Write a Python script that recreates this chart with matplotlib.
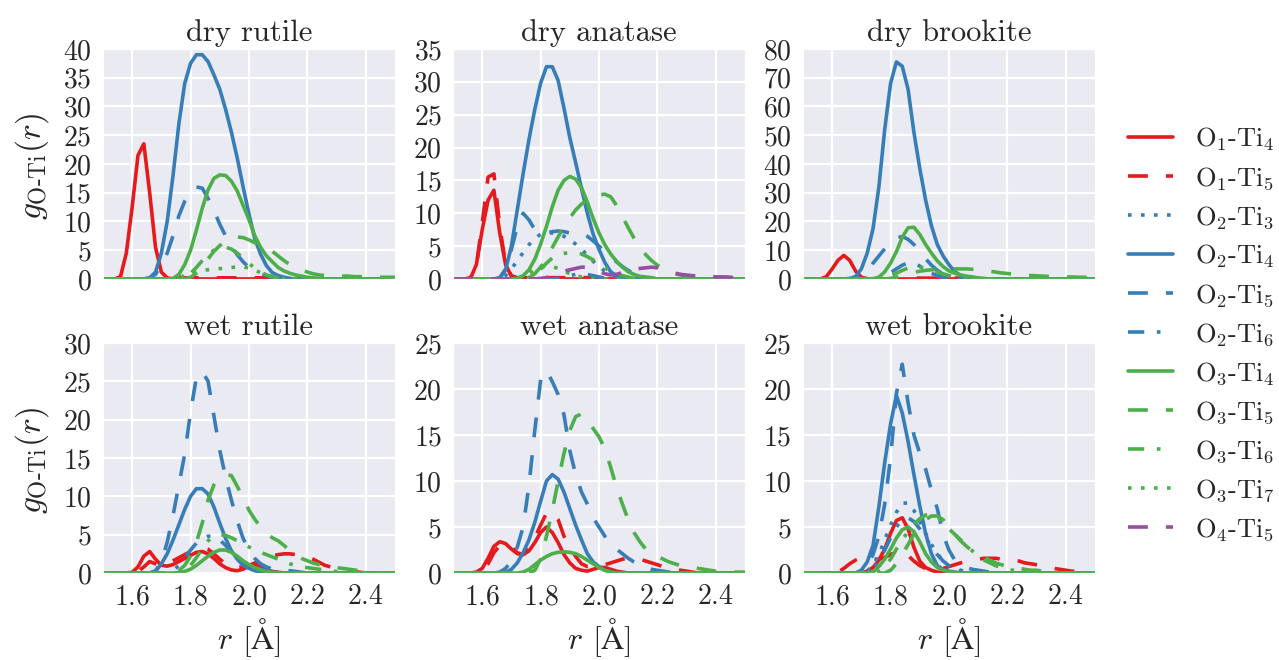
import matplotlib
matplotlib.use("Agg")
import matplotlib.pyplot as plt
from matplotlib.lines import Line2D
import seaborn as sns

R = [1.50, 1.52, 1.54, 1.56, 1.58, 1.60, 1.62, 1.64, 1.66, 1.68, 1.70, 1.72, 1.74, 1.76, 1.78, 1.80, 1.82,
     1.84, 1.86, 1.88, 1.90, 1.92, 1.94, 1.96, 1.98, 2.00, 2.02, 2.04, 2.06, 2.08, 2.10, 2.12, 2.14, 2.16,
     2.18, 2.20, 2.22, 2.24, 2.26, 2.28, 2.30, 2.32, 2.34, 2.36, 2.38, 2.40, 2.42, 2.44, 2.46, 2.48, 2.50]

dry_rutile = {
    "O1-Ti4": [0, 0, 0, 0.4, 4.5, 12.5, 21.5, 23.5, 15, 5.5, 1.2, 0.2, 0, 0, 0, 0, 0,
               0, 0, 0, 0, 0, 0, 0, 0, 0, 0, 0, 0, 0, 0, 0, 0, 0,
               0, 0, 0, 0, 0, 0, 0, 0, 0, 0, 0, 0, 0, 0, 0, 0, 0],
    "O1-Ti5": [0, 0, 0, 0, 0, 0, 0, 0, 0, 0, 0, 0.1, 0.2, 0.2, 0.2, 0.2, 0.2,
               0.2, 0.2, 0.2, 0.2, 0.2, 0.2, 0.2, 0.2, 0.2, 0.2, 0.2, 0.2, 0.2, 0.1, 0, 0, 0,
               0, 0, 0, 0, 0, 0, 0, 0, 0, 0, 0, 0, 0, 0, 0, 0, 0],
    "O2-Ti4": [0, 0, 0, 0, 0, 0, 0, 0, 0.2, 1.2, 4.5, 10, 18, 27, 34, 37.5, 39,
               39, 37.8, 35.5, 33, 29.5, 25.5, 21, 16, 11.3, 7, 4.3, 2.3, 1.1, 0.6, 0.3, 0.1, 0,
               0, 0, 0, 0, 0, 0, 0, 0, 0, 0, 0, 0, 0, 0, 0, 0, 0],
    "O2-Ti5": [0, 0, 0, 0, 0, 0, 0, 0, 0.2, 0.8, 2.5, 4.5, 7.5, 11, 13.5, 15.3, 16,
               15.8, 14, 12, 9.5, 7.5, 5.8, 4.2, 3, 2, 1.3, 0.9, 0.6, 0.3, 0.1, 0, 0, 0,
               0, 0, 0, 0, 0, 0, 0, 0, 0, 0, 0, 0, 0, 0, 0, 0, 0],
    "O3-Ti4": [0, 0, 0, 0, 0, 0, 0, 0, 0, 0, 0, 0, 0.1, 0.8, 2.5, 5, 8.5,
               12.3, 15.5, 17.5, 18.1, 18, 17, 15.3, 12.8, 10.3, 7.5, 5.5, 4, 3, 2, 1.4, 1, 0.7,
               0.5, 0.3, 0.2, 0.1, 0, 0, 0, 0, 0, 0, 0, 0, 0, 0, 0, 0, 0],
    "O3-Ti5": [0, 0, 0, 0, 0, 0, 0, 0, 0, 0, 0, 0, 0, 0, 0, 0.3, 1,
               2.2, 3.5, 4.8, 5.8, 6.6, 7.1, 7.3, 7.2, 6.8, 6.3, 5.8, 5.3, 4.8, 4, 3.2, 2.5, 2,
               1.6, 1.2, 0.9, 0.7, 0.6, 0.6, 0.5, 0.5, 0.5, 0.4, 0.4, 0.4, 0.4, 0.3, 0.3, 0.3, 0.3],
    "O3-Ti6": [0, 0, 0, 0, 0, 0, 0, 0, 0, 0, 0, 0, 0, 0, 0.3, 1, 2,
               3.2, 4.3, 5, 5.4, 5.5, 5.2, 4.5, 3.6, 2.7, 1.9, 1.2, 0.7, 0.4, 0.2, 0, 0, 0,
               0, 0, 0, 0, 0, 0, 0, 0, 0, 0, 0, 0, 0, 0, 0, 0, 0],
    "O3-Ti7": [0, 0, 0, 0, 0, 0, 0, 0, 0, 0, 0, 0, 0, 0.2, 0.6, 1, 1.3,
               1.5, 1.6, 1.7, 1.8, 1.9, 2, 2.1, 2.1, 1.9, 1.5, 1.1, 0.7, 0.4, 0.2, 0, 0, 0,
               0, 0, 0, 0, 0, 0, 0, 0, 0, 0, 0, 0, 0, 0, 0, 0, 0],
}

dry_anatase = {
    "O1-Ti4": [0, 0, 0, 0.1, 2.2, 7.5, 12, 13.5, 7, 2.2, 0.4, 0.1, 0, 0, 0, 0, 0,
               0, 0, 0, 0, 0, 0, 0, 0, 0, 0, 0, 0, 0, 0, 0, 0, 0,
               0, 0, 0, 0, 0, 0, 0, 0, 0, 0, 0, 0, 0, 0, 0, 0, 0],
    "O1-Ti5": [0, 0, 0, 0.2, 2, 8.5, 15.5, 16, 8, 2.3, 0.5, 0.2, 0.2, 0.2, 0.2, 0.2, 0.2,
               0.2, 0.2, 0.2, 0.2, 0.2, 0.2, 0.2, 0.2, 0.2, 0.2, 0.2, 0.2, 0.2, 0.1, 0, 0, 0,
               0, 0, 0, 0, 0, 0, 0, 0, 0, 0, 0, 0, 0, 0, 0, 0, 0],
    "O2-Ti3": [0, 0, 0, 0, 0, 0, 0, 0, 0.1, 0.5, 1.5, 2.8, 4, 5.2, 6.2, 6.8, 7,
               7, 6.8, 6.5, 6, 5.3, 4.5, 3.6, 2.7, 1.9, 1.2, 0.7, 0.3, 0.1, 0, 0, 0, 0,
               0, 0, 0, 0, 0, 0, 0, 0, 0, 0, 0, 0, 0, 0, 0, 0, 0],
    "O2-Ti4": [0, 0, 0, 0, 0, 0, 0, 0, 0.1, 1.4, 5, 10.5, 16, 21.2, 25.8, 29.8, 32.3,
               32.3, 30.2, 26, 21.5, 17.7, 13.8, 10, 6.8, 4.5, 2.5, 1.1, 0.5, 0.2, 0.1, 0, 0, 0,
               0, 0, 0, 0, 0, 0, 0, 0, 0, 0, 0, 0, 0, 0, 0, 0, 0],
    "O2-Ti5": [0, 0, 0, 0, 0, 0, 0, 0, 0.2, 1.5, 4.5, 8, 10, 9, 7.5, 7, 7,
               7.2, 7.3, 7.2, 7, 7, 7, 6.5, 5.8, 5, 4.2, 3.4, 2.6, 1.9, 1.3, 0.8, 0.5, 0.3,
               0.1, 0, 0, 0, 0, 0, 0, 0, 0, 0, 0, 0, 0, 0, 0, 0, 0],
    "O2-Ti6": [0, 0, 0, 0, 0, 0, 0, 0, 0, 0, 0, 0, 0, 0, 0, 0, 0,
               0, 0.1, 0.3, 0.5, 0.7, 0.8, 0.7, 0.5, 0.3, 0.1, 0, 0, 0, 0, 0, 0, 0,
               0, 0, 0, 0, 0, 0, 0, 0, 0, 0, 0, 0, 0, 0, 0, 0, 0],
    "O3-Ti4": [0, 0, 0, 0, 0, 0, 0, 0, 0, 0, 0, 0.1, 0.5, 1.4, 3, 5.3, 8,
               11, 13.5, 15, 15.6, 15.2, 13.9, 11.7, 9.2, 7, 5.2, 3.8, 2.7, 1.8, 1.1, 0.7, 0.4, 0.3,
               0.2, 0, 0, 0, 0, 0, 0, 0, 0, 0, 0, 0, 0, 0, 0, 0, 0],
    "O3-Ti5": [0, 0, 0, 0, 0, 0, 0, 0, 0, 0, 0, 0, 0, 0.2, 0.8, 1.8, 3.2,
               4.8, 6.4, 8, 9.3, 10.5, 11.4, 12, 12.5, 12.8, 12.9, 12.5, 11.2, 9.5, 7.8, 6.2, 4.8, 3.7,
               2.8, 2.1, 1.5, 1.1, 0.8, 0.6, 0.5, 0.4, 0.4, 0.3, 0.3, 0.3, 0.3, 0.2, 0.2, 0.2, 0.2],
    "O3-Ti6": [0, 0, 0, 0, 0, 0, 0, 0, 0, 0, 0, 0, 0, 0.2, 0.7, 1.5, 2.4,
               3.2, 3.7, 3.9, 4, 4, 3.8, 3.4, 2.9, 2.3, 1.7, 1.2, 0.8, 0.5, 0.3, 0.1, 0, 0,
               0, 0, 0, 0, 0, 0, 0, 0, 0, 0, 0, 0, 0, 0, 0, 0, 0],
    "O3-Ti7": [0, 0, 0, 0, 0, 0, 0, 0, 0, 0, 0, 0.1, 0.4, 0.9, 1.4, 1.8, 2,
               1.9, 1.6, 1.2, 0.8, 0.5, 0.3, 0.1, 0, 0, 0, 0, 0, 0, 0, 0, 0, 0,
               0, 0, 0, 0, 0, 0, 0, 0, 0, 0, 0, 0, 0, 0, 0, 0, 0],
    "O4-Ti5": [0, 0, 0, 0, 0, 0, 0, 0, 0, 0, 0, 0, 0, 0, 0, 0.1, 0.2,
               0.4, 0.8, 1.2, 1.4, 1.6, 1.8, 1.8, 1.6, 1.2, 0.8, 0.6, 0.7, 1, 1.3, 1.5, 1.6, 1.7,
               1.8, 1.7, 1.4, 1.1, 0.9, 0.7, 0.6, 0.5, 0.5, 0.4, 0.4, 0.3, 0.3, 0.3, 0.2, 0.2, 0.1],
}

dry_brookite = {
    "O1-Ti4": [0, 0, 0, 0, 0.8, 3.5, 6.5, 8.2, 6.5, 2.8, 0.6, 0.1, 0, 0, 0, 0, 0,
               0, 0, 0, 0, 0, 0, 0, 0, 0, 0, 0, 0, 0, 0, 0, 0, 0,
               0, 0, 0, 0, 0, 0, 0, 0, 0, 0, 0, 0, 0, 0, 0, 0, 0],
    "O1-Ti5": [0, 0, 0, 0, 0, 0, 0, 0, 0, 0, 0, 0, 0, 0, 0, 0, 0,
               0.2, 0.3, 0.3, 0.3, 0.3, 0.3, 0.3, 0.3, 0.3, 0.3, 0.3, 0.3, 0.1, 0, 0, 0, 0,
               0, 0, 0, 0, 0, 0, 0, 0, 0, 0, 0, 0, 0, 0, 0, 0, 0],
    "O2-Ti4": [0, 0, 0, 0, 0, 0, 0, 0, 0.2, 0.8, 3.5, 9, 17.5, 32, 52, 68, 75.5,
               74, 66, 51, 38.5, 27.5, 18.5, 12, 8, 5, 2.5, 1.3, 0.6, 0.3, 0.1, 0, 0, 0,
               0, 0, 0, 0, 0, 0, 0, 0, 0, 0, 0, 0, 0, 0, 0, 0, 0],
    "O2-Ti5": [0, 0, 0, 0, 0, 0, 0, 0, 0, 0, 0.5, 2.5, 5.5, 8, 10.5, 12.5, 14.2,
               14.8, 13.8, 12, 9.5, 7, 4.8, 3, 1.8, 1, 0.5, 0.2, 0, 0, 0, 0, 0, 0,
               0, 0, 0, 0, 0, 0, 0, 0, 0, 0, 0, 0, 0, 0, 0, 0, 0],
    "O2-Ti6": [0, 0, 0, 0, 0, 0, 0, 0, 0, 0, 0, 0, 0, 0.3, 1, 2.2, 3.5,
               4.8, 5.6, 5.5, 4.5, 3.2, 2, 1.2, 0.6, 0.3, 0.1, 0, 0, 0, 0, 0, 0, 0,
               0, 0, 0, 0, 0, 0, 0, 0, 0, 0, 0, 0, 0, 0, 0, 0, 0],
    "O3-Ti4": [0, 0, 0, 0, 0, 0, 0, 0, 0, 0, 0, 0, 0.1, 0.6, 2.5, 5.5, 9.5,
               14.5, 17.8, 18, 15.5, 12, 9, 6.3, 4.3, 2.8, 2, 1.4, 1, 0.7, 0.4, 0.2, 0, 0,
               0, 0, 0, 0, 0, 0, 0, 0, 0, 0, 0, 0, 0, 0, 0, 0, 0],
    "O3-Ti5": [0, 0, 0, 0, 0, 0, 0, 0, 0, 0, 0, 0, 0, 0, 0, 0.2, 0.6,
               1.2, 1.8, 2.3, 2.7, 3, 3.2, 3.3, 3.4, 3.4, 3.5, 3.5, 3.5, 3.4, 3.2, 3, 2.7, 2.4,
               2.1, 1.9, 1.7, 1.5, 1.3, 1.2, 1.1, 1, 0.9, 0.8, 0.8, 0.7, 0.7, 0.6, 0.6, 0.5, 0.5],
    "O3-Ti6": [0, 0, 0, 0, 0, 0, 0, 0, 0, 0, 0, 0, 0, 0, 0.3, 1, 2,
               3, 3.8, 4.2, 4.2, 3.8, 3.2, 2.5, 1.8, 1.2, 0.8, 0.5, 0.3, 0.1, 0, 0, 0, 0,
               0, 0, 0, 0, 0, 0, 0, 0, 0, 0, 0, 0, 0, 0, 0, 0, 0],
}

wet_rutile = {
    "O1-Ti4": [0, 0, 0, 0, 0, 0.1, 0.8, 2.2, 2.8, 1.8, 1, 0.9, 1.1, 1.5, 1.9, 2.3, 2.7,
               2.8, 2.5, 1.9, 1.2, 0.7, 0.4, 0.3, 0.5, 0.9, 1.1, 0.8, 0.4, 0.2, 0.1, 0, 0, 0,
               0, 0, 0, 0, 0, 0, 0, 0, 0, 0, 0, 0, 0, 0, 0, 0, 0],
    "O1-Ti5": [0, 0, 0, 0, 0, 0, 0.2, 0.8, 1.5, 1.2, 0.9, 1.2, 1.6, 2, 2.4, 2.8, 3.2,
               3.3, 3.1, 2.5, 1.8, 1.2, 0.8, 0.7, 0.8, 1, 1.3, 1.6, 1.9, 2.2, 2.4, 2.5, 2.5, 2.4,
               2.3, 2.1, 1.8, 1.4, 1, 0.8, 0.6, 0.4, 0.3, 0.2, 0.1, 0, 0, 0, 0, 0, 0],
    "O2-Ti4": [0, 0, 0, 0, 0, 0, 0, 0, 0, 0.2, 1.2, 2.5, 4.3, 6.3, 8.3, 10, 11,
               11, 10.3, 8.6, 6.5, 4.5, 2.9, 1.8, 1, 0.6, 0.3, 0.1, 0, 0, 0, 0, 0, 0,
               0, 0, 0, 0, 0, 0, 0, 0, 0, 0, 0, 0, 0, 0, 0, 0, 0],
    "O2-Ti5": [0, 0, 0, 0, 0, 0, 0, 0, 0, 0.3, 1.5, 4, 7.5, 11.5, 15.5, 21, 25.5,
               26.3, 25, 20.5, 16, 12.5, 9.5, 6.8, 4.5, 3, 1.9, 1.2, 0.8, 0.5, 0.4, 0.3, 0.3, 0.2,
               0.1, 0, 0, 0, 0, 0, 0, 0, 0, 0, 0, 0, 0, 0, 0, 0, 0],
    "O2-Ti6": [0, 0, 0, 0, 0, 0, 0, 0, 0, 0, 0, 0, 0.3, 1, 2, 3, 3.9,
               4.5, 4.8, 4.8, 4.3, 3.6, 2.8, 2, 1.4, 1, 0.7, 0.5, 0.3, 0.2, 0.1, 0, 0, 0,
               0, 0, 0, 0, 0, 0, 0, 0, 0, 0, 0, 0, 0, 0, 0, 0, 0],
    "O3-Ti4": [0, 0, 0, 0, 0, 0, 0, 0, 0, 0, 0, 0, 0, 0.05, 0.2, 0.5, 1,
               1.6, 2.2, 2.7, 3, 3, 2.7, 2.2, 1.6, 1.1, 0.7, 0.4, 0.2, 0.1, 0, 0, 0, 0,
               0, 0, 0, 0, 0, 0, 0, 0, 0, 0, 0, 0, 0, 0, 0, 0, 0],
    "O3-Ti5": [0, 0, 0, 0, 0, 0, 0, 0, 0, 0, 0, 0, 0, 0.3, 1, 2.2, 4,
               6.5, 9.5, 11.5, 12.5, 12.9, 12.7, 11.3, 9.8, 8.2, 7, 6, 5.2, 4.6, 4.2, 3.6, 2.9, 2.3,
               1.9, 1.6, 1.3, 1.1, 0.9, 0.8, 0.7, 0.6, 0.5, 0.4, 0.3, 0.2, 0.1, 0, 0, 0, 0],
    "O3-Ti6": [0, 0, 0, 0, 0, 0, 0, 0, 0, 0, 0, 0, 0, 0, 0.3, 1, 2,
               3.2, 4.2, 4.8, 5, 4.9, 4.6, 4.2, 3.8, 3.4, 3, 2.7, 2.4, 2.1, 1.8, 1.5, 1.2, 1,
               0.8, 0.7, 0.6, 0.5, 0.4, 0.3, 0.2, 0.1, 0, 0, 0, 0, 0, 0, 0, 0, 0],
}

wet_anatase = {
    "O1-Ti4": [0, 0, 0, 0, 0.1, 0.5, 1.6, 2.9, 3.4, 3.2, 2.6, 2.1, 2, 2.4, 3.3, 4.4, 5,
               4.4, 3.3, 2, 1.1, 0.5, 0.3, 0.2, 0.4, 0.6, 0.6, 0.4, 0.2, 0.1, 0, 0, 0, 0,
               0, 0, 0, 0, 0, 0, 0, 0, 0, 0, 0, 0, 0, 0, 0, 0, 0],
    "O1-Ti5": [0, 0, 0, 0, 0, 0.2, 1, 2.2, 3, 3.2, 2.8, 2.2, 2, 2.6, 3.8, 5.2, 6.5,
               6.7, 5.8, 4, 2.8, 1.8, 1, 0.7, 0.7, 0.8, 0.9, 1.1, 1.3, 1.5, 1.6, 1.6, 1.5, 1.3,
               1.1, 0.9, 0.7, 0.6, 0.4, 0.3, 0.2, 0.1, 0, 0, 0, 0, 0, 0, 0, 0, 0],
    "O2-Ti4": [0, 0, 0, 0, 0, 0, 0, 0, 0, 0.05, 0.4, 1.1, 2.2, 3.6, 5.5, 7.8, 10,
               10.7, 10.2, 8.8, 7, 5.2, 3.6, 2.1, 1.2, 0.7, 0.3, 0.1, 0, 0, 0, 0, 0, 0,
               0, 0, 0, 0, 0, 0, 0, 0, 0, 0, 0, 0, 0, 0, 0, 0, 0],
    "O2-Ti5": [0, 0, 0, 0, 0, 0, 0, 0, 0.1, 0.5, 1.3, 2.8, 5, 9.5, 15.5, 21, 22,
               20.8, 19.4, 17.2, 13.3, 10.7, 8.8, 7.5, 6, 5, 4, 3.1, 2.6, 2.1, 1.6, 1.2, 0.9, 0.6,
               0.4, 0.3, 0.2, 0.1, 0, 0, 0, 0, 0, 0, 0, 0, 0, 0, 0, 0, 0],
    "O3-Ti4": [0, 0, 0, 0, 0, 0, 0, 0, 0, 0, 0, 0, 0.1, 0.4, 0.9, 1.4, 1.8,
               2.1, 2.25, 2.3, 2.25, 2.1, 1.8, 1.4, 1, 0.6, 0.3, 0.1, 0, 0, 0, 0, 0, 0,
               0, 0, 0, 0, 0, 0, 0, 0, 0, 0, 0, 0, 0, 0, 0, 0, 0],
    "O3-Ti5": [0, 0, 0, 0, 0, 0, 0, 0, 0, 0, 0, 0, 0, 0, 0.3, 1.5, 4,
               6.8, 10, 13, 15.5, 17, 17.3, 16.6, 15.7, 14.8, 13.5, 11.5, 9.3, 7.5, 5.8, 4.4, 3.4, 2.6,
               2.1, 1.8, 1.5, 1.2, 1, 0.8, 0.7, 0.6, 0.5, 0.4, 0.3, 0.2, 0.2, 0.1, 0.1, 0.1, 0.1],
}

wet_brookite = {
    "O1-Ti4": [0, 0, 0, 0, 0, 0, 0, 0, 0, 0, 0, 0.2, 0.6, 1.4, 2.6, 4.3, 5.7,
               6, 4.8, 2.8, 1.3, 0.6, 0.3, 0.1, 0, 0, 0, 0, 0, 0, 0, 0, 0, 0,
               0, 0, 0, 0, 0, 0, 0, 0, 0, 0, 0, 0, 0, 0, 0, 0, 0],
    "O1-Ti5": [0, 0, 0, 0, 0, 0, 0.1, 0.5, 1, 1.4, 1.6, 1.6, 1.5, 1.5, 1.7, 2, 2.3,
               2.3, 1.9, 1.3, 0.8, 0.5, 0.4, 0.4, 0.5, 0.7, 0.9, 1.1, 1.3, 1.4, 1.5, 1.6, 1.6, 1.6,
               1.5, 1.5, 1.4, 1.3, 1.1, 1, 0.9, 0.8, 0.6, 0.5, 0.4, 0.3, 0.2, 0.2, 0.1, 0, 0],
    "O2-Ti3": [0, 0, 0, 0, 0, 0, 0, 0, 0, 0, 0, 0.2, 0.8, 2, 3.6, 5.2, 6.6,
               7.6, 7.6, 6.8, 5.6, 4.3, 3.1, 2.1, 1.3, 0.8, 0.4, 0.2, 0.1, 0, 0, 0, 0, 0,
               0, 0, 0, 0, 0, 0, 0, 0, 0, 0, 0, 0, 0, 0, 0, 0, 0],
    "O2-Ti4": [0, 0, 0, 0, 0, 0, 0, 0, 0, 0, 0.3, 1.2, 3, 7.2, 12, 16.2, 19.3,
               17.4, 14.3, 10.7, 7.3, 4.3, 2.1, 0.8, 0.4, 0.2, 0.1, 0, 0, 0, 0, 0, 0, 0,
               0, 0, 0, 0, 0, 0, 0, 0, 0, 0, 0, 0, 0, 0, 0, 0, 0],
    "O2-Ti5": [0, 0, 0, 0, 0, 0, 0, 0, 0, 0, 0.2, 0.8, 2, 4, 7.5, 12.5, 19.5,
               22.7, 18.5, 15, 13, 11.3, 9, 7, 4.2, 2.5, 1.4, 0.9, 0.6, 0.4, 0.3, 0.2, 0.1, 0,
               0, 0, 0, 0, 0, 0, 0, 0, 0, 0, 0, 0, 0, 0, 0, 0, 0],
    "O2-Ti6": [0, 0, 0, 0, 0, 0, 0, 0, 0, 0, 0, 0.1, 0.5, 1.3, 2.5, 3.8, 5,
               5.8, 6, 5.6, 4.8, 3.8, 2.9, 2, 1.3, 0.8, 0.5, 0.3, 0.1, 0, 0, 0, 0, 0,
               0, 0, 0, 0, 0, 0, 0, 0, 0, 0, 0, 0, 0, 0, 0, 0, 0],
    "O3-Ti4": [0, 0, 0, 0, 0, 0, 0, 0, 0, 0, 0, 0, 0.1, 0.7, 1.5, 2.6, 3.8,
               4.7, 5, 4.5, 3.4, 2.1, 1.2, 0.6, 0.3, 0.15, 0.05, 0, 0, 0, 0, 0, 0, 0,
               0, 0, 0, 0, 0, 0, 0, 0, 0, 0, 0, 0, 0, 0, 0, 0, 0],
    "O3-Ti5": [0, 0, 0, 0, 0, 0, 0, 0, 0, 0, 0, 0, 0, 0, 0, 0.3, 1,
               2, 3.1, 4.2, 5.1, 5.8, 6.2, 6.2, 5.8, 5, 4.2, 3.5, 2.9, 2.4, 2, 1.7, 1.4, 1.1,
               0.9, 0.7, 0.6, 0.5, 0.4, 0.3, 0.3, 0.2, 0.2, 0.1, 0, 0, 0, 0, 0, 0, 0],
    "O3-Ti6": [0, 0, 0, 0, 0, 0, 0, 0, 0, 0, 0, 0, 0, 0.2, 0.7, 1.5, 2.6,
               3.6, 4.5, 5.3, 5.9, 6.3, 6.4, 6.1, 5.5, 4.8, 4.2, 3.6, 3, 2.4, 1.9, 1.4, 1.1, 0.8,
               0.6, 0.4, 0.3, 0.2, 0.1, 0, 0, 0, 0, 0, 0, 0, 0, 0, 0, 0, 0],
}

panels = [("dry rutile", dry_rutile, 40, 5), ("dry anatase", dry_anatase, 35, 5),
          ("dry brookite", dry_brookite, 80, 10), ("wet rutile", wet_rutile, 30, 5),
          ("wet anatase", wet_anatase, 25, 5), ("wet brookite", wet_brookite, 25, 5)]

red, blue, green, purple = "#e41a1c", "#377eb8", "#4daf4a", "#984ea3"
solid, dashed, dotted, dashdot = (None, (5.5, 5), (1, 2.6), (4.5, 3.5, 1, 3.5))
styles = {
    "O1-Ti4": (red, solid), "O1-Ti5": (red, dashed),
    "O2-Ti3": (blue, dotted), "O2-Ti4": (blue, solid), "O2-Ti5": (blue, dashed), "O2-Ti6": (blue, dashdot),
    "O3-Ti4": (green, solid), "O3-Ti5": (green, dashed), "O3-Ti6": (green, dashdot), "O3-Ti7": (green, dotted),
    "O4-Ti5": (purple, dashed),
}


def nice(name):
    o, ti = name.split("-")
    return r"$\mathrm{O}_{%s}$-$\mathrm{Ti}_{%s}$" % (o[1:], ti[2:])


def style_kw(name):
    c, d = styles[name]
    kw = dict(color=c, lw=2.6)
    if d is not None:
        kw["dashes"] = d
    return kw


sns.set_style("darkgrid", {"axes.facecolor": "#EAEAF2", "grid.color": "white"})
plt.rcParams["font.family"] = ["cmr10", "DejaVu Serif"]
plt.rcParams["mathtext.fontset"] = "cm"
plt.rcParams["axes.formatter.use_mathtext"] = True
plt.rcParams["axes.unicode_minus"] = False

fig = plt.figure(figsize=(12.79, 6.6), dpi=100)
lefts = [0.0805, 0.3542, 0.6278]
bottoms = [0.5773, 0.1318]
w, h = 0.2283, 0.3485

for k, (title, data, ymax, ystep) in enumerate(panels):
    row, col = divmod(k, 3)
    ax = fig.add_axes([lefts[col], bottoms[row], w, h])
    for name, g in data.items():
        ax.plot(R, g, **style_kw(name))
    ax.set_xlim(1.5, 2.5)
    ax.set_ylim(0, ymax)
    ax.set_xticks([1.6, 1.8, 2.0, 2.2, 2.4])
    ax.set_yticks(list(range(0, ymax + 1, ystep)))
    ax.grid(True, color="white", lw=1.6)
    ax.tick_params(labelsize=20, length=0, pad=8)
    ax.set_title(title, fontsize=22, pad=6)
    if row == 0:
        ax.set_xticklabels([])
    else:
        ax.set_xlabel(r"$r$ [$\mathrm{\AA}$]", fontsize=23, labelpad=4)

# y labels placed by their centre, as in the reference
for yc in (167, 461):
    fig.text(32 / 1279, 1 - yc / 660, r"$g_{\mathrm{O\text{-}Ti}}(r)$", fontsize=24,
             rotation=90, ha="center", va="center")

handles = [Line2D([], [], **style_kw(n)) for n in styles]
labels = [nice(n) for n in styles]
fig.legend(handles, labels, loc="center left", bbox_to_anchor=(0.8737, 0.494),
           frameon=False, fontsize=19, handlelength=1.7, handletextpad=0.83,
           labelspacing=0.46, borderaxespad=0)

fig.savefig("out.png", dpi=100)
